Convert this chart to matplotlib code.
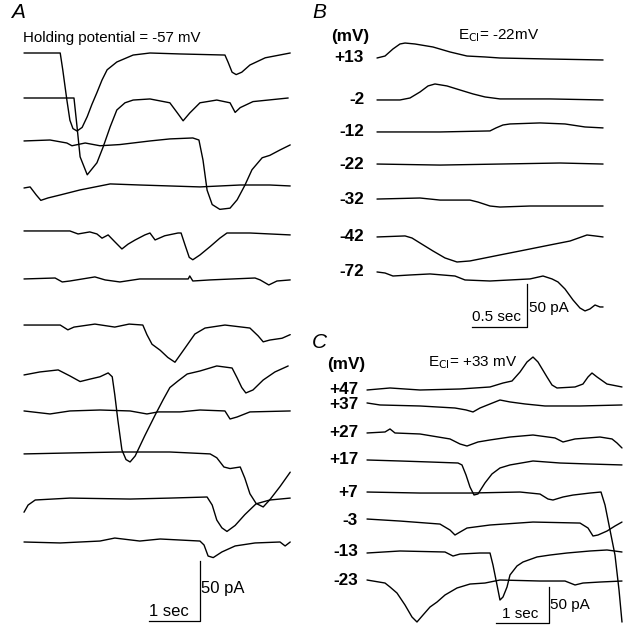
import matplotlib
matplotlib.use("Agg")
import matplotlib.pyplot as plt

# ---------------- DATA (time in s, current in pA relative to baseline) ----------------
# Panel A : holding potential -57 mV
a1_t = [0, 0.71, 0.76, 0.84, 0.90, 0.96, 1.04, 1.14, 1.24, 1.33, 1.43, 1.53, 1.63, 1.82, 2.14, 2.47, 3.06, 3.94, 4.00, 4.08, 4.16, 4.27, 4.43, 4.73, 5.22]
a1_i = [0, 0, -14, -39, -56, -63, -65, -62, -53, -43, -33, -22.5, -14, -7.5, -1.7, 0, -0.8, -1.7, -7.5, -16, -18, -16, -10, -4, 0]
a2_t = [0, 0.98, 1.04, 1.10, 1.24, 1.43, 1.55, 1.69, 1.82, 1.98, 2.14, 2.47, 2.86, 3.00, 3.12, 3.25, 3.45, 3.78, 4.04, 4.14, 4.24, 4.49, 5.18]
a2_i = [0, 0, -24, -49, -64, -54, -41, -24, -10, -4, -1.7, -0.8, -4, -12, -19, -12.5, -4, -1.7, -4, -12, -8, -3, 0]
a3_t = [0, 0.51, 0.84, 0.94, 1.20, 1.49, 1.88, 2.47, 2.86, 3.31, 3.43, 3.51, 3.59, 3.69, 3.84, 4.04, 4.18, 4.33, 4.47, 4.67, 4.82, 5.02, 5.22]
a3_i = [0, 0.8, -1.7, -4, -1.7, -4, -3, 0, 1.7, 2.5, 0.8, -16, -41, -53, -57, -56, -49, -37, -24, -14, -12, -7.5, -3.3]
a4_t = [0, 0.12, 0.24, 0.33, 0.47, 0.71, 1.10, 1.49, 1.69, 2.27, 2.86, 3.45, 4.24, 4.82, 5.22]
a4_i = [-1.7, -0.8, -7.5, -12, -10, -7.5, -3.3, 0, 1.7, 0.8, 0, -0.8, 0.8, 0.8, 0]
a5_t = [0, 0.90, 1.06, 1.29, 1.43, 1.53, 1.65, 1.78, 1.92, 2.04, 2.18, 2.37, 2.47, 2.57, 2.76, 3.02, 3.08, 3.16, 3.24, 3.31, 3.45, 3.65, 3.84, 3.98, 4.43, 5.22]
a5_i = [0, 0, -2.5, -0.8, -2.5, -6, -3.3, -9, -15, -11, -7.5, -3.3, -1.7, -7.5, -4, -1.7, -1.7, -12, -22, -24, -20, -13, -6, -1.7, -1.7, -3.3]
a6_t = [0, 0.61, 0.75, 0.90, 1.39, 1.59, 1.88, 2.27, 2.76, 3.22, 3.25, 3.31, 3.65, 4.53, 4.63, 4.80, 4.96, 5.22]
a6_i = [0, 0.8, -2.5, -1.7, 1.7, -0.8, -2.5, 0, 0, 0, 2.5, -1.7, -0.8, 0.8, -0.8, -5, -1.7, -0.8]
a7_t = [0, 0.71, 0.86, 0.98, 1.39, 1.78, 2.06, 2.33, 2.41, 2.51, 2.67, 2.82, 2.96, 3.16, 3.35, 3.55, 3.94, 4.43, 4.59, 4.69, 4.82, 5.06, 5.22]
a7_i = [0, 0, -4, -1.7, 0.8, -1.7, 0.8, 0, -8, -16, -21, -27, -31, -19, -7.5, -2.5, 0, -2.5, -9, -14, -12.5, -11, -8]
a8_t = [0, 0.31, 0.67, 0.90, 1.10, 1.29, 1.49, 1.65, 1.73, 1.78, 1.84, 1.92, 2.00, 2.08, 2.18, 2.37, 2.57, 2.73, 2.86, 3.02, 3.20, 3.45, 3.78, 4.08, 4.18, 4.27, 4.35, 4.49, 4.69, 4.92, 5.18]
a8_i = [-2.5, 0, 1.7, -3.3, -8, -6, -4, -0.8, -4, -19, -40, -65, -73, -75, -70, -53, -36, -23, -13, -7.5, -1.7, 0.8, 5, 3.3, -5, -13, -17.5, -15, -6.7, 0, 5]
a9_t = [0, 0.51, 0.90, 1.49, 2.08, 2.41, 2.63, 3.06, 3.45, 3.94, 4.04, 4.18, 4.43, 5.22]
a9_i = [0, -2.5, 0, 0.8, 0, -2.5, -0.8, -0.8, 0.8, 0, -6.7, -5, -0.8, 0]
a10_t = [0, 0.90, 1.88, 2.86, 3.65, 3.78, 3.92, 4.04, 4.24, 4.33, 4.43, 4.55, 4.69, 4.82, 5.02, 5.22]
a10_i = [-0.8, 0, 0.8, 0.8, -0.8, -4, -11.7, -13, -11.7, -21, -34, -42, -45, -39, -28, -16]
a11_t = [0, 0.08, 0.22, 0.90, 2.08, 2.86, 3.59, 3.69, 3.78, 3.88, 3.98, 4.14, 4.33, 4.55, 4.82, 5.22]
a11_i = [-11, -5, -0.8, 0.8, 0, 0.8, 1.7, -5, -17.5, -24, -27, -22, -13, -4, -0.8, 0.8]
a12_t = [0, 0.71, 1.49, 1.78, 2.27, 2.67, 3.45, 3.53, 3.61, 3.71, 3.88, 4.14, 4.53, 5.02, 5.12, 5.22]
a12_i = [0, -0.8, 0.8, 3.3, 0.8, 2.5, 0.8, -2.5, -11.7, -13, -8.3, -3.3, -0.8, 0, -3.3, 0]

# Panel B : E_Cl = -22 mV
b_labels = ["+13", "-2", "-12", "-22", "-32", "-42", "-72"]
b1_t = [0, 0.073, 0.145, 0.209, 0.255, 0.345, 0.509, 0.664, 0.818, 0.982, 1.118, 1.573, 2.055]
b1_i = [0, 2.3, 10.5, 16.3, 17.4, 16.3, 12.8, 7, 2.3, 1.2, 0, -1.2, -2.3]
b2_t = [0, 0.209, 0.300, 0.391, 0.464, 0.527, 0.636, 0.755, 0.873, 0.982, 1.118, 1.573, 2.055]
b2_i = [0, 0, 2.3, 9.3, 16.3, 18.6, 16.3, 11.6, 7, 3.5, 1.2, 1.2, 0]
b3_t = [0, 0.573, 1.027, 1.082, 1.145, 1.209, 1.482, 1.709, 1.891, 2.055]
b3_i = [0, 0, 1.2, 4.7, 8.1, 9.3, 10.5, 9.3, 5.8, 4.7]
b4_t = [0, 0.573, 1.118, 1.664, 2.055]
b4_i = [0, -1.2, 0, 1.2, 0]
b5_t = [0, 0.391, 0.573, 0.845, 0.918, 1.027, 1.118, 1.391, 1.664, 2.055]
b5_i = [0, 1.2, -1.2, -1.2, -3.5, -8.1, -9.3, -8.1, -8.1, -8.1]
b6_t = [0, 0.255, 0.318, 0.391, 0.509, 0.618, 0.727, 0.845, 0.982, 1.118, 1.300, 1.573, 1.755, 1.909, 1.982, 2.055]
b6_i = [0, 1.2, -1.2, -7, -16.3, -24.4, -29.1, -27.9, -24.4, -20.9, -16.3, -9.3, -4.7, 2.3, 1.2, 0]
b7_t = [0, 0.073, 0.145, 0.3, 0.482, 0.709, 0.8, 1.027, 1.209, 1.391, 1.509, 1.591, 1.645, 1.709, 1.782, 1.845, 1.891, 1.936, 1.982, 2.027, 2.055]
b7_i = [0, -1.2, -4.7, -3.5, -2.3, -4.7, -9.3, -10.5, -9.3, -8.1, -4.7, -8.1, -11.6, -19.8, -32.6, -41.9, -45.3, -43, -38.4, -40.7, -40.7]

# Panel C : E_Cl = +33 mV
c_labels = ["+47", "+37", "+27", "+17", "+7", "-3", "-13", "-23"]
c1_t = [0, 0.434, 1.0, 1.755, 2.321, 2.566, 2.736, 2.887, 3.019, 3.132, 3.226, 3.396, 3.491, 3.585, 3.925, 4.075, 4.170, 4.245, 4.340, 4.528, 4.811]
c1_i = [0, 2.8, 0, 1.4, 4.2, 9.7, 12.5, 25, 38.9, 45.8, 38.9, 18.1, 6.9, 2.8, 4.2, 8.3, 18.1, 23.6, 18.1, 8.3, 4.2]
c2_t = [0, 0.245, 1.0, 1.660, 1.868, 2.0, 2.132, 2.321, 2.509, 2.698, 2.981, 3.358, 4.019, 4.811]
c2_i = [2.8, 0, -1.4, -4.2, -6.9, -9.7, -4.2, 1.4, 6.9, 4.2, 1.4, -1.4, -1.4, 0]
c3_t = [0, 0.340, 0.434, 0.528, 1.0, 1.566, 1.755, 1.887, 2.094, 2.321, 2.698, 3.132, 3.547, 3.698, 3.925, 4.396, 4.623, 4.717, 4.811]
c3_i = [0, 1.4, 5.6, 0, -1.4, -8.3, -15.3, -18.1, -12.5, -9.7, -5.6, -2.8, -6.9, -12.5, -8.3, -5.6, -8.3, -13.9, -20.8]
c4_t = [0, 0.623, 1.189, 1.717, 1.792, 1.868, 1.943, 2.019, 2.094, 2.226, 2.358, 2.509, 2.698, 3.132, 3.642, 4.208, 4.811]
c4_i = [0, -1.4, -2.8, -4.2, -6.9, -20.8, -37.5, -48.6, -47.2, -31.9, -19.4, -11.1, -6.9, -1.4, -4.2, -5.6, -6.9]
c5_t = [0, 1.0, 1.943, 2.887, 3.264, 3.415, 3.509, 3.698, 3.887, 4.208, 4.415, 4.491, 4.585, 4.679, 4.755, 4.811]
c5_i = [0, -1.4, -1.4, 0, -2.8, -9.7, -11.1, -6.9, -4.2, -1.4, 0, -18.1, -52.8, -87.5, -136.1, -180.6]
c6_t = [0, 0.623, 1.377, 1.566, 1.660, 1.755, 1.887, 2.321, 3.132, 4.019, 4.170, 4.264, 4.358, 4.528, 4.679, 4.811]
c6_i = [1.4, -1.4, -5.6, -13.9, -20.8, -16.7, -11.1, -6.9, -2.8, -4.2, -11.1, -22.2, -20.8, -15.3, -8.3, -2.8]
c7_t = [0, 0.623, 1.472, 1.623, 1.755, 2.132, 2.321, 2.377, 2.453, 2.509, 2.566, 2.642, 2.698, 2.830, 2.943, 3.208, 3.453, 3.774, 4.208, 4.528, 4.811]
c7_i = [-1.4, 1.4, 0, -5.6, -2.8, -1.4, -1.4, -18.1, -45.8, -66.7, -62.5, -48.6, -31.9, -19.4, -13.9, -6.9, -4.2, -1.4, 1.4, 2.8, 0]
c8_t = [0, 0.340, 0.434, 0.566, 0.717, 0.849, 0.943, 1.057, 1.189, 1.321, 1.472, 1.698, 1.943, 2.226, 2.509, 3.264, 3.736, 3.925, 4.075, 4.396, 4.811]
c8_i = [0, -4.2, -9.7, -18.1, -34.7, -51.4, -58.3, -48.6, -37.5, -30.6, -20.8, -11.1, -5.6, -4.2, 0, -1.4, -1.4, -6.9, -4.2, -2.8, -1.4]

# ---------------- LAYOUT ----------------
W, H = 625, 629
fig = plt.figure(figsize=(W / 100, H / 100), dpi=100)
FONT = "Liberation Sans"
LW = 1.0

# vertical stacking offsets of traces (pA)
a_offsets = [0, -37.5, -73.3, -110.8, -148.3, -188.3, -226.7, -265.8, -298.3, -333.3, -371.7, -407.5]
b_offsets = [0, -48.8, -86.0, -123.3, -164.0, -208.1, -248.8]
c_offsets = [0, -20.8, -59.7, -97.2, -141.7, -180.6, -225.0, -263.9]


def panel_axes(x0_px, y0_px, px_per_s, px_per_pA):
    ax = fig.add_axes([0, 0, 1, 1])
    ax.set_xlim(-x0_px / px_per_s, (W - x0_px) / px_per_s)
    ax.set_ylim((y0_px - H) / px_per_pA, y0_px / px_per_pA)
    ax.axis("off")
    ax.patch.set_alpha(0)
    return ax


def ftext(x, y, s, **kw):
    kw.setdefault("family", FONT)
    kw.setdefault("va", "center")
    fig.text(x / W, 1 - y / H, s, **kw)


axA = panel_axes(24, 53, 51, 1.2)
axB = panel_axes(377, 58, 110, 0.86)
axC = panel_axes(367, 390, 53, 0.72)

a_traces = [(a1_t, a1_i), (a2_t, a2_i), (a3_t, a3_i), (a4_t, a4_i), (a5_t, a5_i), (a6_t, a6_i),
            (a7_t, a7_i), (a8_t, a8_i), (a9_t, a9_i), (a10_t, a10_i), (a11_t, a11_i), (a12_t, a12_i)]
b_traces = [(b1_t, b1_i), (b2_t, b2_i), (b3_t, b3_i), (b4_t, b4_i), (b5_t, b5_i), (b6_t, b6_i), (b7_t, b7_i)]
c_traces = [(c1_t, c1_i), (c2_t, c2_i), (c3_t, c3_i), (c4_t, c4_i), (c5_t, c5_i), (c6_t, c6_i),
            (c7_t, c7_i), (c8_t, c8_i)]

for ax, traces, offs in [(axA, a_traces, a_offsets), (axB, b_traces, b_offsets), (axC, c_traces, c_offsets)]:
    for (t, i), off in zip(traces, offs):
        ax.plot(t, [v + off for v in i], color="black", lw=LW,
                solid_joinstyle="round", solid_capstyle="round")

# scale bars (corner in data coords)
def scalebar(ax, xc, yc, dx, dy):
    ax.plot([xc - dx, xc, xc], [yc, yc, yc + dy], color="black", lw=0.9)

scalebar(axA, 3.45, -473.3, 1.0, 50)
scalebar(axB, 1.364, -312.8, 0.5, 50)
scalebar(axC, 3.434, -323.6, 1.0, 50)

# ---------------- TEXT ----------------
ftext(11, 13, "A", fontsize=15, style="italic")
ftext(23, 38, "Holding potential = -57 mV", fontsize=10.8)
ftext(149, 612, "1 sec", fontsize=12)
ftext(201, 588, "50 pA", fontsize=12)

ftext(312, 13, "B", fontsize=15, style="italic")
ftext(331, 37, "(mV)", fontsize=12.3, weight="bold")
ftext(458, 36, r"E$_{\mathrm{Cl}}$= -22mV", fontsize=11)
for lab, off in zip(b_labels, b_offsets):
    y = 58 - off * 0.86
    ftext(364, y, lab, fontsize=12.3, weight="bold", ha="right")
ftext(472, 317, "0.5 sec", fontsize=11)
ftext(529, 308, "50 pA", fontsize=11)

ftext(312, 343, "C", fontsize=15, style="italic")
ftext(327, 365, "(mV)", fontsize=12.3, weight="bold")
ftext(428, 363, r"E$_{\mathrm{Cl}}$= +33 mV", fontsize=11)
for lab, off in zip(c_labels, c_offsets):
    y = 390 - off * 0.72
    ftext(358, y, lab, fontsize=12.3, weight="bold", ha="right")
ftext(502, 614, "1 sec", fontsize=11)
ftext(550, 605, "50 pA", fontsize=11)

fig.savefig("out.png", dpi=100)
